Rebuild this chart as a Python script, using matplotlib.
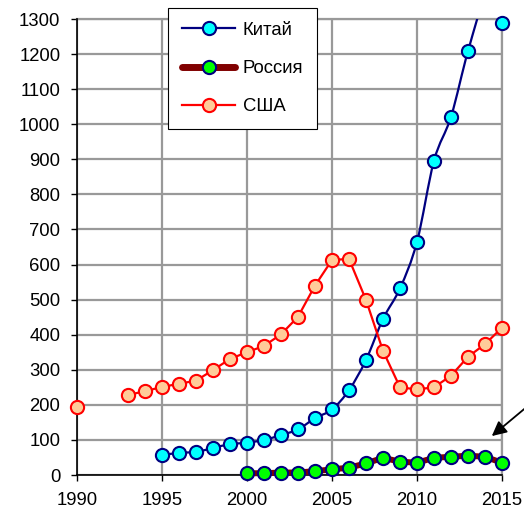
import matplotlib
matplotlib.use("Agg")
import matplotlib.pyplot as plt
from matplotlib.path import Path
from matplotlib.patches import PathPatch
from matplotlib.lines import Line2D
import numpy as np

plt.rcParams['font.family'] = ['Liberation Sans', 'DejaVu Sans']

# ---- data ----
china_years = [1995, 1996, 1997, 1998, 1999, 2000, 2001, 2002, 2003, 2004, 2005,
               2006, 2007, 2008, 2009, 2010, 2011, 2012, 2013, 2014, 2015]
china_vals = [57, 63, 66, 77, 88, 92, 100, 114, 130, 162, 187,
              242, 328, 445, 532, 665, 896, 1021, 1208, 1350, 1290]

russia_years = [2000, 2001, 2002, 2003, 2004, 2005, 2006, 2007, 2008, 2009, 2010,
                2011, 2012, 2013, 2014, 2015]
russia_vals = [5, 5, 7, 7, 11, 16, 21, 33, 49, 38, 35, 49, 52, 55, 52, 35]

usa_years = [1990, 1991, 1992, 1993, 1994, 1995, 1996, 1997, 1998, 1999, 2000, 2001, 2002,
             2003, 2004, 2005, 2006, 2007, 2008, 2009, 2010, 2011, 2012, 2013,
             2014, 2015]
usa_vals = [194, np.nan, np.nan, 228, 239, 251, 260, 269, 299, 331, 350, 368, 401,
            451, 540, 613, 616, 499, 354, 250, 244, 250, 283, 337, 373, 420]

labels = ['Китай', 'Россия', 'США']
x_ticks = [1990, 1995, 2000, 2005, 2010, 2015]
y_ticks = list(range(0, 1301, 100))

W, H = 524, 511
fig = plt.figure(figsize=(W / 100, H / 100), dpi=100)
ax = fig.add_axes([77 / W, 1 - 475 / H, (502 - 77) / W, (475 - 19) / H])

FS = 13.3
grid_col = '#999999'
YMAX = 1300

ax.set_xlim(1990, 2015)
ax.set_ylim(0, YMAX)
ax.set_xticks(x_ticks)
ax.set_yticks(y_ticks)
ax.grid(True, color=grid_col, lw=1.6, zorder=0)
ax.set_axisbelow(True)
for s in ['top', 'right']:
    ax.spines[s].set_color(grid_col)
    ax.spines[s].set_linewidth(1.6)
for s in ['left', 'bottom']:
    ax.spines[s].set_color('black')
    ax.spines[s].set_linewidth(1.2)
    ax.spines[s].set_zorder(3)
ax.tick_params(axis='both', direction='out', length=4, width=1, labelsize=FS, colors='black')
ax.tick_params(axis='y', pad=8)
ax.tick_params(axis='x', pad=8)

ms = 9.5
mew = 1.5


def markers(xv, yv, fc, ec):
    yv = np.ma.masked_greater(np.array(yv, float), YMAX)
    ax.plot(xv, yv, ls='none', marker='o', ms=ms, mfc=fc, mec=ec, mew=mew,
            zorder=5, clip_on=False)


# China: smoothed line (Bezier path, Excel-like smoothing)
xs = np.array(china_years, float)
ys = np.array(china_vals, float)
n = len(xs)
verts = [(xs[0], ys[0])]
codes = [Path.MOVETO]
for i in range(n - 1):
    p0 = np.array([xs[max(i - 1, 0)], ys[max(i - 1, 0)]])
    p1 = np.array([xs[i], ys[i]])
    p2 = np.array([xs[i + 1], ys[i + 1]])
    p3 = np.array([xs[min(i + 2, n - 1)], ys[min(i + 2, n - 1)]])
    c1 = p1 + (p2 - p0) / 6
    c2 = p2 - (p3 - p1) / 6
    verts += [tuple(c1), tuple(c2), tuple(p2)]
    codes += [Path.CURVE4] * 3
patch = PathPatch(Path(verts, codes), facecolor='none', edgecolor='#000080', lw=1.6, zorder=4)
ax.add_patch(patch)
markers(china_years, china_vals, '#00FFFF', '#000080')

# Russia
ax.plot(russia_years, russia_vals, color='#800000', lw=4.3, zorder=4,
        solid_capstyle='butt', clip_on=False)
markers(russia_years, russia_vals, '#00FF00', '#000080')

# USA
ax.plot(usa_years, usa_vals, color='#FF0000', lw=1.6, zorder=4)
markers(usa_years, usa_vals, '#FFCC99', '#FF0000')

# arrow
ax.annotate('', xy=(2014.4, 111), xytext=(2016.6, 200),
            arrowprops=dict(arrowstyle='-|>', color='black', lw=1.3,
                            mutation_scale=22, shrinkA=0, shrinkB=0),
            annotation_clip=False, zorder=6)

# legend
handles = [
    Line2D([], [], color='#000080', lw=1.6, marker='o', ms=ms, mfc='#00FFFF', mec='#000080', mew=mew),
    Line2D([], [], color='#800000', lw=5, marker='o', ms=ms, mfc='#00FF00', mec='#000080', mew=mew,
           solid_capstyle='round'),
    Line2D([], [], color='#FF0000', lw=1.6, marker='o', ms=ms, mfc='#FFCC99', mec='#FF0000', mew=mew),
]
leg = fig.legend(handles, labels, loc='upper left', bbox_to_anchor=(168 / W, 1 - 8 / H),
                 bbox_transform=fig.transFigure, fontsize=FS, numpoints=1,
                 handlelength=2.9, handletextpad=0.4, labelspacing=1.15,
                 borderpad=0.75, borderaxespad=0, fancybox=False, framealpha=1,
                 edgecolor='black')
leg.get_frame().set_linewidth(0.8)
leg.set_zorder(10)

fig.savefig('out.png', dpi=100)
